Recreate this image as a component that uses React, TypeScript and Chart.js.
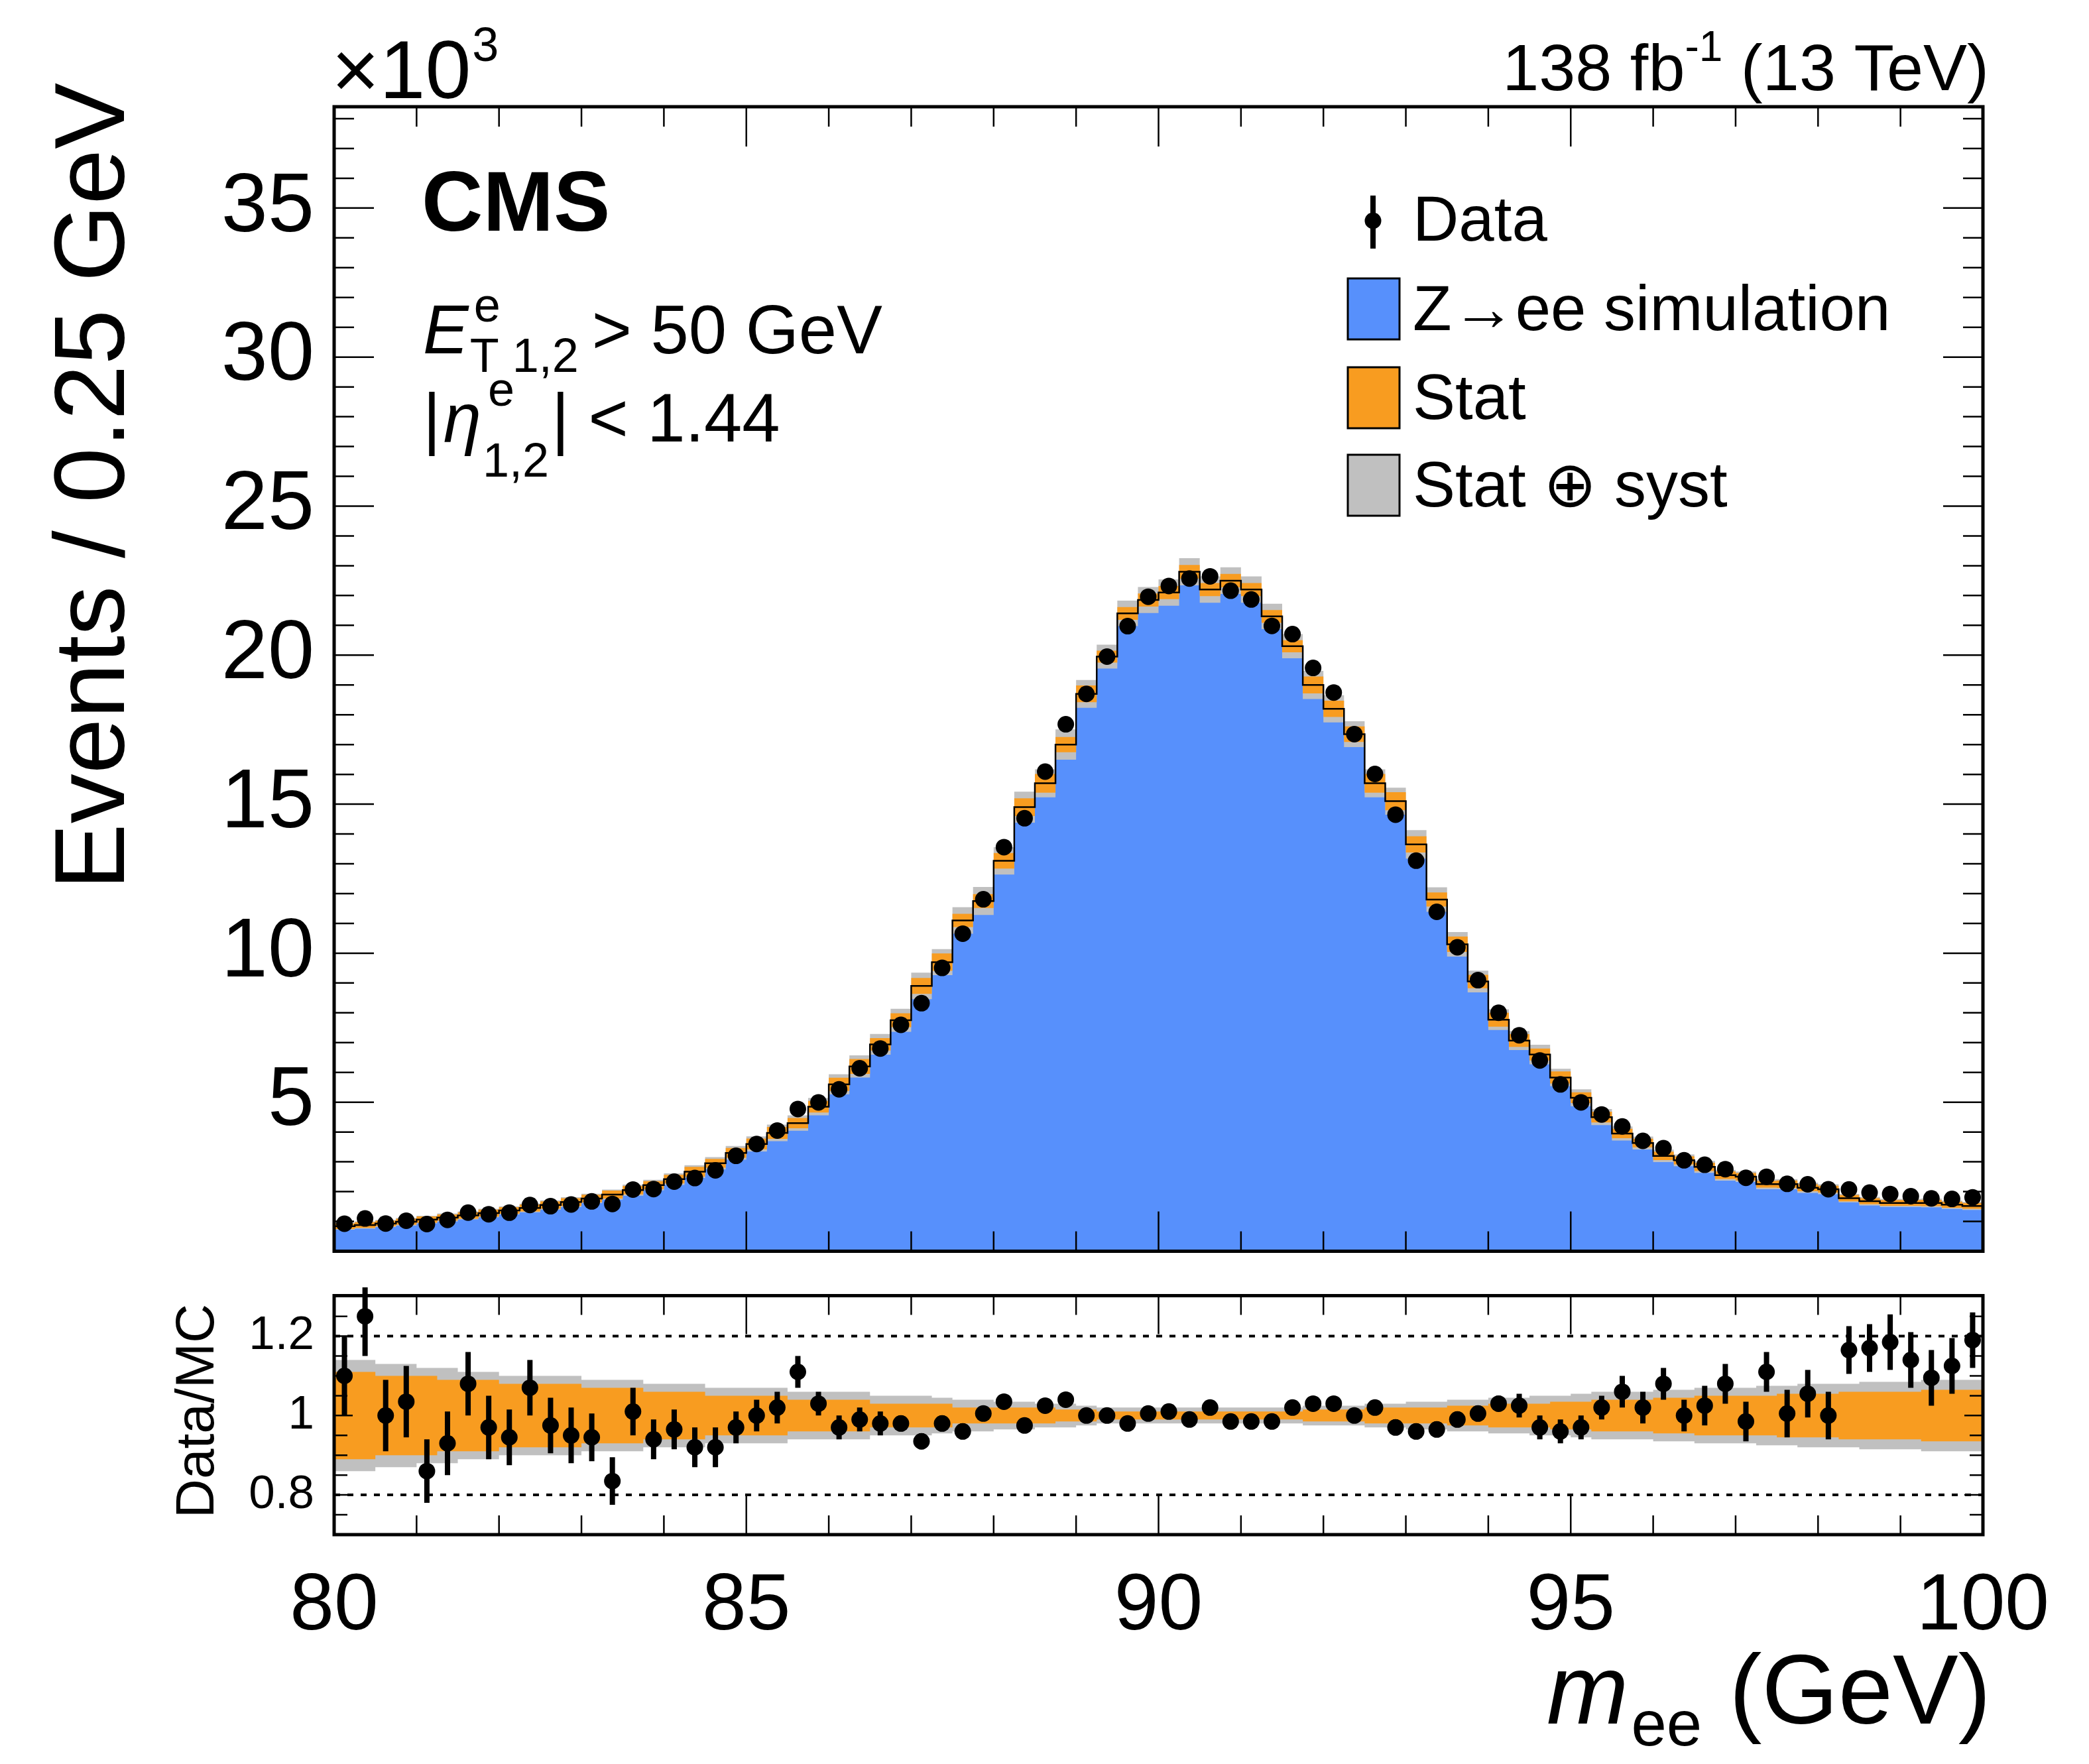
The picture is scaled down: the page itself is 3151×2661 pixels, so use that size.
import React, { useEffect, useRef } from "react";
import { Chart, registerables } from "chart.js";
Chart.register(...registerables);

const binEdgesStart = 80;
const binWidth = 0.25;
const mc = [0.84,0.88,0.93,0.99,1.06,1.13,1.2,1.28,1.37,1.45,
1.55,1.65,1.77,1.9,2.05,2.22,2.42,2.67,2.95,3.3,
3.6,3.97,4.3,4.85,5.6,6.2,6.94,7.75,8.9,9.7,
11.1,11.75,13.1,14.9,15.7,17.0,18.7,19.95,21.4,21.85,
22.1,22.8,22.2,22.5,22.2,21.3,20.3,19.0,18.2,17.35,
15.7,15.1,13.65,11.8,10.3,9.05,7.77,7.07,6.6,5.83,
5.15,4.5,3.95,3.63,3.2,3.05,2.83,2.55,2.5,2.25,
2.25,2.13,2.08,1.78,1.68,1.62,1.62,1.62,1.56,1.52];
const ratio = [1.10,1.25,1.0,1.035,0.86,0.93,1.08,0.97,0.945,1.07,
0.975,0.95,0.945,0.835,1.01,0.94,0.965,0.92,0.92,0.97,
1.0,1.02,1.11,1.03,0.97,0.99,0.98,0.98,0.935,0.98,
0.96,1.005,1.035,0.975,1.025,1.04,1.0,1.0,0.98,1.005,
1.01,0.99,1.02,0.985,0.985,0.985,1.02,1.03,1.03,1.0,
1.02,0.97,0.96,0.965,0.99,1.005,1.03,1.025,0.97,0.96,
0.97,1.02,1.06,1.02,1.08,1.0,1.025,1.08,0.985,1.11,
1.005,1.055,1.0,1.165,1.17,1.185,1.14,1.095,1.125,1.19];
const ratioErr = [0.10,0.10,0.09,0.09,0.08,0.08,0.08,0.08,0.07,0.07,
0.07,0.07,0.06,0.06,0.06,0.05,0.05,0.05,0.05,0.04,
0.04,0.04,0.04,0.03,0.03,0.03,0.03,0.02,0.02,0.02,
0.02,0.01,0.01,0.01,0.01,0.01,0.01,0.01,0.01,0.01,
0.01,0.01,0.01,0.01,0.01,0.01,0.01,0.01,0.01,0.01,
0.01,0.02,0.02,0.02,0.02,0.02,0.02,0.03,0.03,0.03,
0.03,0.03,0.04,0.04,0.04,0.04,0.05,0.05,0.05,0.05,
0.06,0.06,0.06,0.06,0.06,0.07,0.07,0.07,0.07,0.07];
const statRel = [0.11,0.11,0.10,0.10,0.10,0.09,0.09,0.09,0.08,0.08,
0.08,0.08,0.07,0.07,0.07,0.06,0.06,0.06,0.05,0.05,
0.05,0.05,0.04,0.04,0.04,0.04,0.03,0.03,0.03,0.03,
0.02,0.02,0.02,0.02,0.02,0.015,0.015,0.01,0.01,0.01,
0.01,0.01,0.01,0.01,0.01,0.01,0.01,0.015,0.015,0.015,
0.02,0.02,0.02,0.02,0.025,0.025,0.03,0.03,0.03,0.035,
0.035,0.04,0.04,0.04,0.045,0.045,0.05,0.05,0.05,0.05,
0.055,0.055,0.055,0.06,0.06,0.06,0.06,0.065,0.065,0.065];
const totRel = [0.14,0.14,0.13,0.13,0.12,0.12,0.11,0.11,0.10,0.10,
0.10,0.10,0.09,0.09,0.09,0.08,0.08,0.08,0.07,0.07,
0.07,0.07,0.06,0.06,0.06,0.06,0.05,0.05,0.05,0.045,
0.04,0.04,0.035,0.035,0.03,0.03,0.025,0.02,0.02,0.02,
0.02,0.02,0.02,0.02,0.02,0.02,0.02,0.025,0.025,0.025,
0.03,0.03,0.035,0.035,0.04,0.04,0.045,0.045,0.05,0.05,
0.055,0.06,0.06,0.06,0.065,0.065,0.07,0.07,0.07,0.075,
0.075,0.08,0.08,0.08,0.085,0.085,0.085,0.09,0.09,0.09];
const mainYTicks = [5, 10, 15, 20, 25, 30, 35];
const ratioYTicks = [0.8, 1, 1.2];
const xTicks = [80, 85, 90, 95, 100];

const BLUE = "#5790fc", ORANGE = "#f89c20", GREY = "#c0c0c0";
const FONT = "'Liberation Sans', Arial, sans-serif";
const L = 504, R = 2991, T = 161, B = 1890, T2 = 1942, B2 = 2315;

const edge = (i: number) => binEdgesStart + binWidth * i;
const step = (vals: number[]) => {
  const pts = vals.map((v, i) => ({ x: edge(i), y: v }));
  pts.push({ x: edge(vals.length), y: vals[vals.length - 1] });
  return pts;
};
const center = (i: number) => edge(i) + binWidth / 2;
const noPad = (s: any) => { s.paddingTop = 0; s.paddingBottom = 0; s.paddingLeft = 0; s.paddingRight = 0; };

function drawFrameTicks(chart: any, o: { yMinor: number; yMajor: number[]; yMin: number; yMax: number; xMaj: number; xMin: number; yMajL: number; yMinL: number }) {
  const { ctx, chartArea: a, scales } = chart;
  const xs = scales.x, ys = scales.y;
  ctx.save();
  ctx.strokeStyle = "#000"; ctx.lineWidth = 2.5;
  ctx.beginPath();
  for (let k = 80; k <= 100; k++) {
    const x = xs.getPixelForValue(k);
    const len = k % 5 === 0 ? o.xMaj : o.xMin;
    ctx.moveTo(x, a.bottom); ctx.lineTo(x, a.bottom - len);
    ctx.moveTo(x, a.top); ctx.lineTo(x, a.top + len);
  }
  const start = Math.ceil(o.yMin / o.yMinor - 1e-6);
  for (let k = start; k * o.yMinor <= o.yMax + 1e-9; k++) {
    const v = k * o.yMinor;
    const y = ys.getPixelForValue(v);
    const major = o.yMajor.some((m) => Math.abs(m - v) < 1e-6);
    const len = major ? o.yMajL : o.yMinL;
    ctx.moveTo(a.left, y); ctx.lineTo(a.left + len, y);
    ctx.moveTo(a.right, y); ctx.lineTo(a.right - len, y);
  }
  ctx.stroke();
  ctx.lineWidth = 5;
  ctx.strokeRect(a.left, a.top, a.right - a.left, a.bottom - a.top);
  ctx.restore();
}

function MainChart() {
  const ref = useRef<HTMLCanvasElement>(null);
  useEffect(() => {
    const dataPts = mc.map((m, i) => ({ x: center(i), y: m * ratio[i] }));
    const deco = {
      id: "deco",
      afterDatasetsDraw(chart: any) {
        drawFrameTicks(chart, { yMinor: 1, yMajor: mainYTicks, yMin: 0, yMax: 38.4, xMaj: 60, xMin: 30, yMajL: 60, yMinL: 30 });
      },
      afterDraw(chart: any) {
        const ctx = chart.ctx;
        ctx.save();
        ctx.fillStyle = "#000";
        ctx.textBaseline = "alphabetic";
        ctx.textAlign = "left";
        ctx.font = `124px ${FONT}`;
        ctx.fillText("\u00d710", 500, 148);
        const w = ctx.measureText("\u00d710").width;
        ctx.font = `72px ${FONT}`;
        ctx.fillText("3", 500 + w + 2, 92);
        ctx.textAlign = "right";
        ctx.font = `99px ${FONT}`;
        const tail = " (13 TeV)";
        const tw = ctx.measureText(tail).width;
        ctx.fillText(tail, 3000, 136);
        ctx.font = `64px ${FONT}`;
        const sw = ctx.measureText("-1").width;
        ctx.fillText("-1", 3000 - tw, 92);
        ctx.font = `99px ${FONT}`;
        ctx.fillText("138 fb", 3000 - tw - sw, 136);
        ctx.textAlign = "left";
        ctx.font = `bold 128px ${FONT}`;
        ctx.fillText("CMS", 636, 348);
        ctx.font = `italic 103px ${FONT}`;
        ctx.fillText("E", 638, 533);
        let x = 638 + ctx.measureText("E").width + 2;
        ctx.font = `72px ${FONT}`;
        ctx.fillText("e", x + 6, 485);
        ctx.fillText("T 1,2", x, 561);
        x += ctx.measureText("T 1,2").width + 20;
        ctx.font = `103px ${FONT}`;
        ctx.fillText("> 50 GeV", x, 533);
        ctx.fillText("|", 638, 666);
        x = 638 + ctx.measureText("|").width + 4;
        ctx.font = `italic 103px ${FONT}`;
        ctx.fillText("\u03b7", x, 666);
        x += ctx.measureText("\u03b7").width + 2;
        ctx.font = `72px ${FONT}`;
        ctx.fillText("e", x + 8, 612);
        ctx.fillText("1,2", x, 719);
        x += ctx.measureText("1,2").width + 4;
        ctx.font = `103px ${FONT}`;
        ctx.fillText("| < 1.44", x, 666);
        ctx.beginPath();
        ctx.arc(2071, 333, 12.5, 0, Math.PI * 2);
        ctx.fill();
        ctx.lineWidth = 8;
        ctx.beginPath(); ctx.moveTo(2071, 295); ctx.lineTo(2071, 375); ctx.stroke();
        ctx.font = `96px ${FONT}`;
        ctx.fillText("Data", 2131, 363);
        const rows: [string, string, number][] = [
          [BLUE, "Z\u2192ee simulation", 466],
          [ORANGE, "Stat", 600],
          [GREY, "Stat \u2295 syst", 732],
        ];
        for (const [c, t, y] of rows) {
          ctx.fillStyle = c;
          ctx.fillRect(2033, y - 46, 78, 92);
          ctx.strokeStyle = "#000"; ctx.lineWidth = 3;
          ctx.strokeRect(2033, y - 46, 78, 92);
          ctx.fillStyle = "#000";
          ctx.fillText(t, 2131, y + 32);
        }
        ctx.save();
        ctx.translate(187, 125);
        ctx.rotate(-Math.PI / 2);
        ctx.textAlign = "right";
        ctx.font = `150px ${FONT}`;
        ctx.fillText("Events / 0.25 GeV", 0, 0);
        ctx.restore();
        ctx.restore();
      },
    };
    const chart = new Chart(ref.current!, {
      type: "line",
      data: {
        datasets: [
          { data: step(mc), stepped: "before", borderColor: "#000", borderWidth: 2.5, pointRadius: 0, fill: false, order: 1 } as any,
          { data: step(mc.map((m, i) => m * (1 + statRel[i]))), stepped: "before", borderWidth: 0, pointRadius: 0, fill: false, order: 3 } as any,
          { data: step(mc.map((m, i) => m * (1 - statRel[i]))), stepped: "before", borderWidth: 0, pointRadius: 0, backgroundColor: ORANGE, fill: "-1", order: 3 } as any,
          { data: step(mc.map((m, i) => m * (1 + totRel[i]))), stepped: "before", borderWidth: 0, pointRadius: 0, fill: false, order: 4 } as any,
          { data: step(mc.map((m, i) => m * (1 - totRel[i]))), stepped: "before", borderWidth: 0, pointRadius: 0, backgroundColor: GREY, fill: "-1", order: 4 } as any,
          { data: step(mc), stepped: "before", borderWidth: 0, pointRadius: 0, backgroundColor: BLUE, fill: "origin", order: 5 } as any,
          { type: "scatter", data: dataPts, pointRadius: 12.5, backgroundColor: "#000", borderWidth: 0, order: 0 } as any,
        ],
      },
      options: {
        animation: false, responsive: false, maintainAspectRatio: false,
        layout: { padding: { left: 0, top: T, right: 3151 - R, bottom: 0 } },
        plugins: { legend: { display: false }, tooltip: { enabled: false } },
        scales: {
          x: { type: "linear", min: 80, max: 100, grid: { display: false }, border: { display: false }, ticks: { display: false },
            afterFit: (s: any) => { s.height = 10; noPad(s); } } as any,
          y: { min: 0, max: 38.4, grid: { display: false }, border: { display: false },
            afterBuildTicks: (s: any) => { s.ticks = mainYTicks.map((v) => ({ value: v })); },
            ticks: { font: { family: FONT, size: 126 }, color: "#000", padding: 22 },
            afterFit: (s: any) => { s.width = L; noPad(s); } } as any,
        },
      },
      plugins: [deco],
    });
    return () => chart.destroy();
  }, []);
  return <canvas ref={ref} width={3151} height={B + 10} style={{ position: "absolute", left: 0, top: 0, width: 3151, height: B + 10 }} />;
}

function RatioChart() {
  const ref = useRef<HTMLCanvasElement>(null);
  const H = 2661 - T2;
  useEffect(() => {
    const pts = ratio.map((r, i) => ({ x: center(i), y: r }));
    const deco = {
      id: "deco2",
      beforeDatasetsDraw(chart: any) {
        const { ctx, chartArea: a, scales } = chart;
        ctx.save();
        ctx.strokeStyle = "#000"; ctx.lineWidth = 4; ctx.setLineDash([9, 11]);
        for (const v of [0.8, 1, 1.2]) {
          const y = scales.y.getPixelForValue(v);
          ctx.beginPath(); ctx.moveTo(a.left, y); ctx.lineTo(a.right, y); ctx.stroke();
        }
        ctx.restore();
      },
      afterDatasetsDraw(chart: any) {
        const { ctx, scales } = chart;
        ctx.save();
        ctx.strokeStyle = "#000"; ctx.lineWidth = 8;
        ctx.beginPath();
        ratio.forEach((r, i) => {
          const x = scales.x.getPixelForValue(center(i));
          ctx.moveTo(x, scales.y.getPixelForValue(r - ratioErr[i]));
          ctx.lineTo(x, scales.y.getPixelForValue(r + ratioErr[i]));
        });
        ctx.stroke();
        ctx.restore();
        drawFrameTicks(chart, { yMinor: 0.05, yMajor: [0.8, 1, 1.2], yMin: 0.70, yMax: 1.302, xMaj: 58, xMin: 29, yMajL: 28, yMinL: 20 });
      },
      afterDraw(chart: any) {
        const ctx = chart.ctx;
        ctx.save();
        ctx.fillStyle = "#000";
        ctx.save();
        ctx.translate(322, (T2 + B2) / 2 - T2);
        ctx.rotate(-Math.PI / 2);
        ctx.textAlign = "center";
        ctx.font = `82px ${FONT}`;
        ctx.fillText("Data/MC", 0, 0);
        ctx.restore();
        ctx.textAlign = "right";
        ctx.font = `148px ${FONT}`;
        const t = " (GeV)";
        const tw = ctx.measureText(t).width;
        ctx.fillText(t, 3003, 2600 - T2);
        ctx.font = `96px ${FONT}`;
        const sw = ctx.measureText("ee").width;
        ctx.fillText("ee", 3003 - tw, 2633 - T2);
        ctx.font = `italic 148px ${FONT}`;
        ctx.fillText("m", 3003 - tw - sw - 4, 2600 - T2);
        ctx.restore();
      },
    };
    const chart = new Chart(ref.current!, {
      type: "line",
      data: {
        datasets: [
          { data: step(statRel.map((s) => 1 + s)), stepped: "before", borderWidth: 0, pointRadius: 0, fill: false, order: 3 } as any,
          { data: step(statRel.map((s) => 1 - s)), stepped: "before", borderWidth: 0, pointRadius: 0, backgroundColor: ORANGE, fill: "-1", order: 3 } as any,
          { data: step(totRel.map((s) => 1 + s)), stepped: "before", borderWidth: 0, pointRadius: 0, fill: false, order: 4 } as any,
          { data: step(totRel.map((s) => 1 - s)), stepped: "before", borderWidth: 0, pointRadius: 0, backgroundColor: GREY, fill: "-1", order: 4 } as any,
          { type: "scatter", data: pts, pointRadius: 12.5, backgroundColor: "#000", borderWidth: 0, order: 0 } as any,
        ],
      },
      options: {
        animation: false, responsive: false, maintainAspectRatio: false,
        layout: { padding: { left: 0, top: 0, right: 3151 - R, bottom: H - (B2 - T2) - 150 } },
        plugins: { legend: { display: false }, tooltip: { enabled: false } },
        scales: {
          x: { type: "linear", min: 80, max: 100, grid: { display: false }, border: { display: false },
            afterBuildTicks: (s: any) => { s.ticks = xTicks.map((v) => ({ value: v })); },
            ticks: { font: { family: FONT, size: 120 }, color: "#000", padding: 30, maxRotation: 0 },
            afterFit: (s: any) => { s.height = 150; noPad(s); } } as any,
          y: { min: 0.70, max: 1.302, grid: { display: false }, border: { display: false },
            afterBuildTicks: (s: any) => { s.ticks = ratioYTicks.map((v) => ({ value: v })); },
            ticks: { font: { family: FONT, size: 71 }, color: "#000", padding: 22, callback: (v: any) => String(v) },
            afterFit: (s: any) => { s.width = L; noPad(s); } } as any,
        },
      },
      plugins: [deco],
    });
    return () => chart.destroy();
  }, []);
  return <canvas ref={ref} width={3151} height={H} style={{ position: "absolute", left: 0, top: T2, width: 3151, height: H }} />;
}

export default function App() {
  return (
    <div style={{ position: "fixed", left: 0, top: 0, width: 3151, height: 2661, background: "#fff", overflow: "hidden" }}>
      <MainChart />
      <RatioChart />
    </div>
  );
}
